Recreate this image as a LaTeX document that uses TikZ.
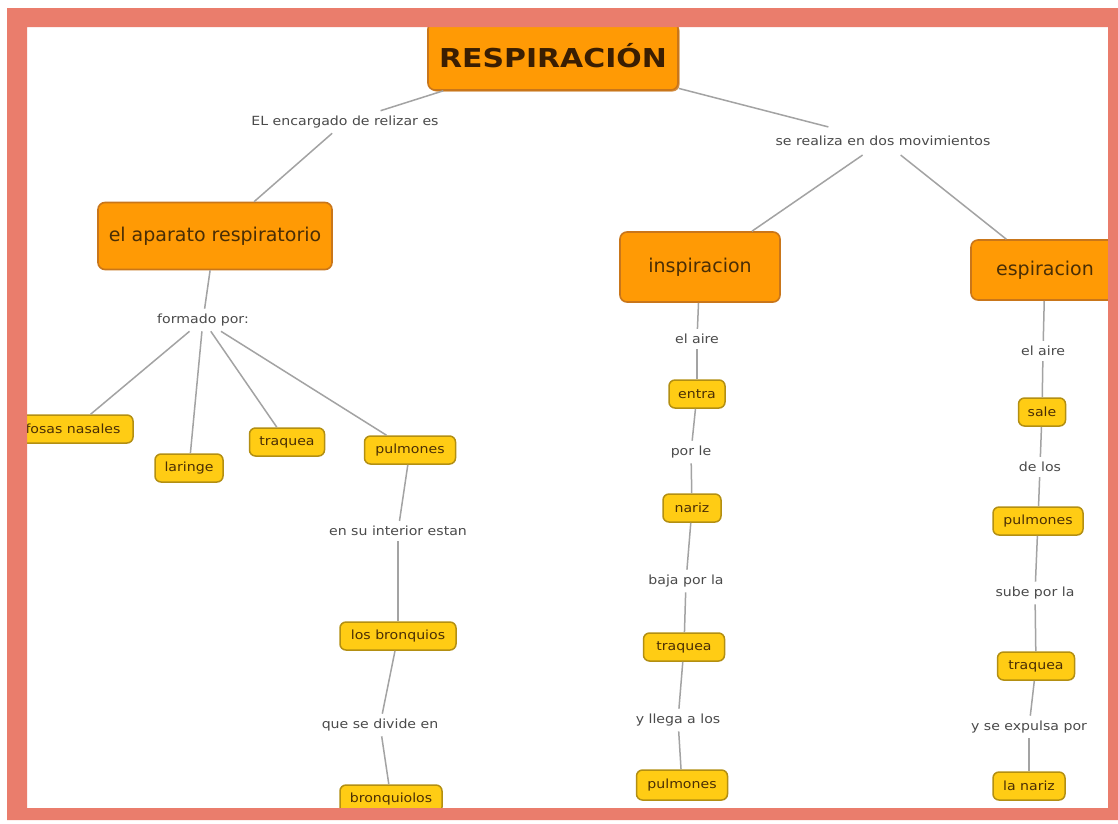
\documentclass[tikz,border=0pt]{standalone}
\usepackage{fontspec}
\setmainfont{DejaVu Sans}
\newfontfamily\widefont[FakeStretch=1.12]{DejaVu Sans}
\newfontfamily\titlefont[FakeStretch=1.15]{DejaVu Sans Bold}
\usetikzlibrary{shadows}
\definecolor{frameC}{HTML}{EA7D6C}
\definecolor{orgF}{HTML}{FF9A05}
\definecolor{orgD}{HTML}{C9761A}
\definecolor{yelF}{HTML}{FFCC14}
\definecolor{yelD}{HTML}{B38F12}
\definecolor{txtD}{HTML}{4A2E05}
\definecolor{titleC}{HTML}{3A1E02}
\definecolor{lblC}{HTML}{4A4A4A}
\definecolor{lineC}{HTML}{A3A3A3}
\begin{document}
\begin{tikzpicture}[x=1pt,y=-1pt,
  mainbox/.style={rounded corners=7pt, fill=orgF, draw=orgD, line width=1.6pt, text=txtD,
    font=\fontsize{19}{22}\selectfont, inner sep=0pt},
  subbox/.style={rounded corners=6pt, fill=yelF, draw=yelD, line width=1.5pt, text=txtD,
    minimum height=28pt, font=\widefont\fontsize{12.6}{14}\selectfont, inner sep=0pt},
  lbl/.style={text=lblC, font=\widefont\fontsize{12.6}{14}\selectfont, inner xsep=2pt, inner ysep=5pt},
  conn/.style={draw=lineC, line width=1.5pt}]
\useasboundingbox (0,0) rectangle (1118,823);
\fill[white] (0,0) rectangle (1118,823);

% main concepts
\node[mainbox, minimum width=250pt, minimum height=68pt, text=titleC, font=\titlefont\fontsize{26}{30}\selectfont,
  drop shadow={shadow xshift=1.5pt, shadow yshift=-1.5pt, fill=orgD, opacity=0.8}] (resp) at (553,56) {RESPIRACIÓN};
\node[mainbox, minimum width=234pt, minimum height=67pt] (apar) at (215,236) {el aparato respiratorio};
\node[mainbox, minimum width=160pt, minimum height=70pt] (insp) at (700,267) {inspiracion};
\node[mainbox, minimum width=148pt, minimum height=60pt] (espi) at (1045,270) {espiracion};

% linking phrases
\node[lbl] (l1) at (345,122) {EL encargado de relizar es};
\node[lbl, inner ysep=9pt] (l2) at (883,141) {se realiza en dos movimientos};
\node[lbl] (l3) at (203,320) {formado por:};
\node[lbl] (l4) at (398,531) {en su interior estan};
\node[lbl] (l5) at (380,725) {que se divide en};
\node[lbl] (i1) at (697,339) {el aire};
\node[lbl] (i2) at (691,452) {por le};
\node[lbl] (i3) at (686,581) {baja por la};
\node[lbl] (i4) at (678,720) {y llega a los};
\node[lbl] (e1) at (1043,351) {el aire};
\node[lbl] (e2) at (1040,467) {de los};
\node[lbl] (e3) at (1035,593) {sube por la};
\node[lbl] (e4) at (1029,727) {y se expulsa por};

% small concepts
\node[subbox, minimum width=120pt] (fosas) at (73,429) {fosas nasales};
\node[subbox, minimum width=68pt] (lar) at (189,468) {laringe};
\node[subbox, minimum width=75pt] (traq) at (287,442) {traquea};
\node[subbox, minimum width=91pt] (pulm) at (410,450) {pulmones};
\node[subbox, minimum width=116pt] (bronq) at (398,636) {los bronquios};
\node[subbox, minimum width=102pt] (bronql) at (391,799) {bronquiolos};

\node[subbox, minimum width=56pt] (entra) at (697,394) {entra};
\node[subbox, minimum width=58pt] (nariz) at (692,508) {nariz};
\node[subbox, minimum width=81pt] (traqI) at (684,647) {traquea};
\node[subbox, minimum width=91pt, minimum height=30pt] (pulmI) at (682,785) {pulmones};

\node[subbox, minimum width=47pt] (sale) at (1042,412) {sale};
\node[subbox, minimum width=90pt] (pulmE) at (1038,521) {pulmones};
\node[subbox, minimum width=77pt] (traqE) at (1036,666) {traquea};
\node[subbox, minimum width=72pt] (narE) at (1029,786) {la nariz};

% connectors
\draw[conn] (resp) -- (l1);
\draw[conn] (l1) -- (apar);
\draw[conn] (resp) -- (l2);
\draw[conn] (l2) -- (insp);
\draw[conn] (l2) -- (espi);
\draw[conn] (apar) -- (l3);
\draw[conn] (l3) -- (fosas);
\draw[conn] (l3) -- (lar);
\draw[conn] (l3) -- (traq);
\draw[conn] (l3) -- (pulm);
\draw[conn] (pulm) -- (l4);
\draw[conn] (l4) -- (bronq);
\draw[conn] (bronq) -- (l5);
\draw[conn] (l5) -- (bronql);
\draw[conn] (insp) -- (i1);
\draw[conn] (i1) -- (entra);
\draw[conn] (entra) -- (i2);
\draw[conn] (i2) -- (nariz);
\draw[conn] (nariz) -- (i3);
\draw[conn] (i3) -- (traqI);
\draw[conn] (traqI) -- (i4);
\draw[conn] (i4) -- (pulmI);
\draw[conn] (espi) -- (e1);
\draw[conn] (e1) -- (sale);
\draw[conn] (sale) -- (e2);
\draw[conn] (e2) -- (pulmE);
\draw[conn] (pulmE) -- (e3);
\draw[conn] (e3) -- (traqE);
\draw[conn] (traqE) -- (e4);
\draw[conn] (e4) -- (narE);

% frame
\fill[white, even odd rule] (0,0) rectangle (1118,823) (7,8) rectangle (1118,820);
\fill[frameC, even odd rule] (7,8) rectangle (1118,820) (27,27) rectangle (1108,808);
\end{tikzpicture}
\end{document}
